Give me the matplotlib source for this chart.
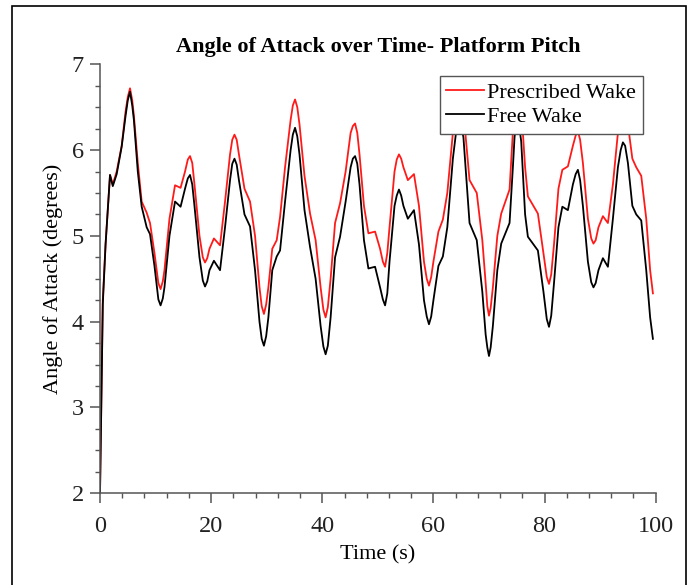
import matplotlib
matplotlib.use("Agg")
import matplotlib.pyplot as plt
from matplotlib.patches import Rectangle
from matplotlib.ticker import MultipleLocator

plt.rcParams['font.family'] = ['Liberation Serif', 'DejaVu Serif']

# valeurs (temps en s, angle en degres)
time = [0.0, 0.5, 1.0, 1.8, 2.3, 3.0, 3.9, 4.6, 5.0, 5.4, 5.8, 6.1, 6.8, 7.5,
        8.4, 9.0, 9.8, 10.5, 10.9, 11.3, 11.6, 12.5, 13.5, 14.5, 15.3, 15.8,
        16.2, 16.6, 17.0, 17.9, 18.5, 18.9, 19.3, 19.7, 20.5, 21.6, 22.5, 23.4,
        23.8, 24.2, 24.6, 25.0, 26.0, 27.0, 27.9, 28.7, 29.1, 29.5, 29.9, 30.3,
        31.0, 31.8, 32.4, 33.3, 34.3, 34.7, 35.1, 35.5, 35.9, 36.8, 37.8, 38.8,
        39.7, 40.2, 40.6, 41.0, 41.5, 42.3, 43.2, 44.2, 45.1, 45.5, 45.9, 46.3,
        46.7, 47.5, 48.3, 49.5, 50.4, 50.9, 51.3, 51.7, 52.1, 53.0, 53.4, 53.8,
        54.2, 54.6, 55.4, 56.5, 57.4, 58.3, 58.8, 59.2, 59.6, 60.0, 60.9, 61.7,
        62.5, 63.5, 64.1, 64.5, 64.9, 65.4, 66.5, 67.8, 68.8, 69.4, 69.7, 70.0,
        70.3, 70.7, 71.5, 72.2, 73.7, 74.3, 74.6, 75.0, 75.4, 75.8, 76.5, 77.0,
        78.8, 79.8, 80.4, 80.8, 81.2, 81.7, 82.5, 83.2, 84.2, 85.1, 85.6, 86.0,
        86.4, 86.9, 87.8, 88.4, 88.8, 89.2, 89.7, 90.5, 91.4, 92.3, 93.2, 93.7,
        94.1, 94.5, 95.0, 95.8, 96.5, 97.4, 98.3, 99.0, 99.5]

prescribed = [2.0, 4.25, 4.9, 5.71, 5.60, 5.75, 6.05, 6.45, 6.62, 6.72, 6.58,
              6.40, 5.85, 5.40, 5.27, 5.15, 4.80, 4.45, 4.38, 4.47, 4.60, 5.20,
              5.59, 5.56, 5.75, 5.89, 5.93, 5.85, 5.60, 5.00, 4.75, 4.69, 4.74,
              4.85, 4.97, 4.89, 5.40, 5.95, 6.12, 6.18, 6.12, 5.95, 5.55, 5.40,
              5.00, 4.40, 4.18, 4.09, 4.20, 4.40, 4.85, 4.95, 5.22, 5.80, 6.35,
              6.52, 6.59, 6.50, 6.30, 5.70, 5.26, 4.95, 4.40, 4.14, 4.05, 4.17,
              4.50, 5.15, 5.38, 5.75, 6.20, 6.28, 6.31, 6.20, 5.95, 5.35, 5.03,
              5.05, 4.85, 4.70, 4.64, 4.80, 5.10, 5.75, 5.89, 5.95, 5.90, 5.80,
              5.65, 5.72, 5.35, 4.70, 4.50, 4.42, 4.52, 4.70, 5.05, 5.19, 5.50,
              6.20, 6.58, 6.70, 6.65, 6.45, 5.65, 5.50, 4.95, 4.45, 4.18, 4.07,
              4.16, 4.40, 5.00, 5.26, 5.54, 6.20, 6.55, 6.75, 6.68, 6.50, 5.80,
              5.46, 5.26, 4.80, 4.52, 4.44, 4.55, 4.90, 5.55, 5.77, 5.81, 6.05,
              6.17, 6.22, 6.12, 5.85, 5.20, 4.97, 4.91, 4.95, 5.10, 5.23, 5.15,
              5.60, 6.20, 6.38, 6.45, 6.42, 6.30, 5.90, 5.80, 5.70, 5.20, 4.60,
              4.33]

free = [2.0, 4.2, 4.9, 5.71, 5.58, 5.72, 6.04, 6.40, 6.58, 6.68, 6.52, 6.35,
        5.75, 5.34, 5.10, 5.02, 4.65, 4.26, 4.19, 4.27, 4.40, 5.00, 5.40, 5.34,
        5.55, 5.67, 5.71, 5.60, 5.35, 4.75, 4.48, 4.41, 4.47, 4.60, 4.71, 4.60,
        5.10, 5.65, 5.84, 5.90, 5.83, 5.65, 5.25, 5.11, 4.60, 4.00, 3.80, 3.72,
        3.83, 4.05, 4.60, 4.76, 4.83, 5.40, 6.00, 6.18, 6.26, 6.16, 5.95, 5.30,
        4.87, 4.50, 3.95, 3.71, 3.62, 3.72, 4.05, 4.75, 4.99, 5.40, 5.80, 5.90,
        5.93, 5.84, 5.60, 4.95, 4.62, 4.64, 4.40, 4.26, 4.19, 4.33, 4.70, 5.35,
        5.47, 5.54, 5.47, 5.35, 5.20, 5.30, 4.90, 4.25, 4.06, 3.97, 4.06, 4.25,
        4.65, 4.76, 5.10, 5.90, 6.22, 6.35, 6.30, 6.15, 5.15, 4.95, 4.35, 3.85,
        3.70, 3.60, 3.70, 3.95, 4.60, 4.91, 5.15, 5.80, 6.15, 6.35, 6.30, 6.10,
        5.25, 4.99, 4.83, 4.35, 4.03, 3.94, 4.07, 4.45, 5.10, 5.34, 5.30, 5.60,
        5.72, 5.77, 5.65, 5.35, 4.70, 4.46, 4.40, 4.45, 4.60, 4.74, 4.64, 5.20,
        5.80, 6.00, 6.09, 6.05, 5.85, 5.35, 5.25, 5.18, 4.60, 4.05, 3.80]

fig = plt.figure(figsize=(6.94, 5.85), dpi=100)
ax = fig.add_axes([0.1441, 0.1568, 0.8007, 0.7333])

ax.plot(time, prescribed, color='#ff1a1a', lw=1.3, label='Prescribed Wake')
ax.plot(time, free, color='black', lw=1.3, label='Free Wake')

ax.set_xlim(0, 100)
ax.set_ylim(2, 7)
ax.xaxis.set_major_locator(MultipleLocator(20))
ax.xaxis.set_minor_locator(MultipleLocator(4))
ax.yaxis.set_major_locator(MultipleLocator(1))
ax.yaxis.set_minor_locator(MultipleLocator(0.25))

for s in ['top', 'right']:
    ax.spines[s].set_visible(False)
for s in ['left', 'bottom']:
    ax.spines[s].set_color('#555555')
    ax.spines[s].set_linewidth(1.1)

ax.tick_params(which='major', direction='out', length=7.5, width=1.1,
               color='#555555', labelsize=17.5, labelcolor='#222222')
ax.tick_params(which='minor', direction='out', length=3.7, width=1.0,
               color='#555555')
ax.tick_params(axis='x', which='major', pad=9)
ax.tick_params(axis='y', which='major', pad=4)

ax.set_title('Angle of Attack over Time- Platform Pitch', fontsize=16,
             fontweight='bold', pad=9)
ax.set_xlabel('Time (s)', fontsize=16, labelpad=6)
ax.set_ylabel('Angle of Attack (degrees)', fontsize=16, labelpad=6)

leg = ax.legend(loc='upper right', bbox_to_anchor=(0.977, 0.973),
                borderaxespad=0, fontsize=16, handlelength=1.7,
                handletextpad=0.15, labelspacing=0.15, borderpad=0.3,
                fancybox=False, framealpha=1, edgecolor='#555555')
leg.get_frame().set_linewidth(1.0)

# cadre autour de la figure
fig.patches.append(Rectangle((12 / 694, -0.02), 674 / 694, 1.02 - 6 / 585,
                             transform=fig.transFigure, fill=False,
                             edgecolor='black', lw=1.2))

fig.savefig('out.png', dpi=100)
